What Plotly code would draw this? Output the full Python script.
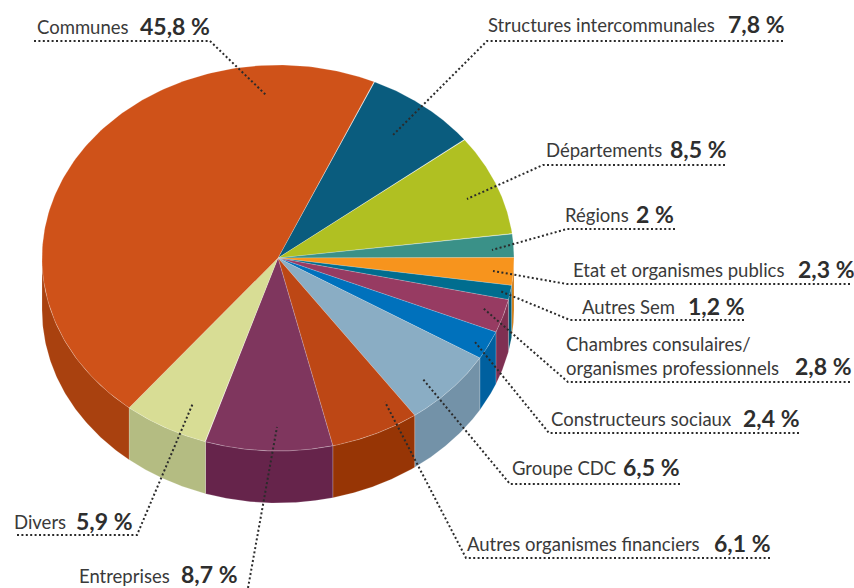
import numpy as np
import plotly.graph_objects as go

# ---- data ----
categories = ["Structures intercommunales", "Départements", "Régions", "Etat et organismes publics",
              "Autres Sem", "Chambres consulaires/<br>organismes professionnels", "Constructeurs sociaux",
              "Groupe CDC", "Autres organismes financiers", "Entreprises", "Divers", "Communes"]
values = [7.8, 8.5, 2.0, 2.3, 1.2, 2.8, 2.4, 6.5, 6.1, 8.7, 5.9, 45.8]
value_labels = ["7,8 %", "8,5 %", "2 %", "2,3 %", "1,2 %", "2,8 %", "2,4 %", "6,5 %", "6,1 %", "8,7 %", "5,9 %", "45,8 %"]

# ---- styles ----
top_colors = ["#0A5C7E", "#B0C022", "#3A9188", "#F7941D", "#006D8F", "#973B62",
              "#0071BC", "#8AADC4", "#BD4715", "#7F365E", "#D8DD95", "#CF5219"]
side_colors = ["#084A66", "#8E9B1B", "#2E746D", "#D07C18", "#005A76", "#7F3052",
               "#00609F", "#7392A8", "#973505", "#66244B", "#B4BC82", "#A9410F"]

# ---- pie projection ----
CX, CY, RX, RY, DEPTH = 278, 258, 236, 193, 52
START = 24.0


def ell(deg, drop=0.0):
    a = np.radians(deg)
    return CX + RX * np.sin(a), CY - RY * np.cos(a) + drop


fig = go.Figure()
SEAM = dict(color="rgba(255,255,255,0.25)", width=0.7)


def poly(xs, ys, color, line=None):
    fig.add_trace(go.Scatter(x=xs, y=ys, mode="lines", fill="toself", fillcolor=color,
                             line=line or dict(color=color, width=0.3), hoverinfo="skip", showlegend=False))


edges = START + np.cumsum([0] + values) * 3.6

# side walls: only the front half of the rim (90 to 270 degrees) is visible
for i, col in enumerate(side_colors):
    for shift in (0, 360):
        a0 = max(edges[i] - shift, 90)
        a1 = min(edges[i + 1] - shift, 270)
        if a1 <= a0:
            continue
        t = np.linspace(a0, a1, 80)
        x0, y0 = ell(t)
        x1, y1 = ell(t[::-1], DEPTH)
        poly(np.r_[x0, x1, x0[0]], np.r_[y0, y1, y0[0]], col, SEAM)

# top faces
for i, col in enumerate(top_colors):
    t = np.linspace(edges[i], edges[i + 1], 160)
    x, y = ell(t)
    poly(np.r_[CX, x, CX], np.r_[CY, y, CY], col, SEAM)

# ---- callout layout: name x, name y, value x, value y, then dotted leader vertices ----
callouts = [
    (488, 25, 728, 24, [(783, 41), (487, 41), (393, 135)]),
    (546, 150, 670, 149, [(725, 165), (543, 165), (467, 199)]),
    (565, 215, 636, 214, [(675, 229), (567, 229), (492, 250)]),
    (573, 270, 798, 269, [(850, 284), (567, 284), (493, 271)]),
    (582, 307, 688, 306, [(744, 320), (570, 320), (500, 291)]),
    (566, 356, 795, 366, [(850, 382), (568, 382), (483, 308)]),
    (551, 419, 743, 418, [(799, 433), (549, 433), (475, 342)]),
    (512, 468, 623, 467, [(680, 484), (510, 484), (422, 378)]),
    (467, 544, 714, 543, [(770, 558), (466, 558), (385, 402)]),
    (79, 576, 181, 574, [(248, 588), (277, 427)]),
    (14, 522, 76, 521, [(17, 535), (137, 535), (193, 403)]),
    (37, 27, 140, 26, [(34, 41), (210, 41), (266, 95)]),
]

annotations = []
for name, val, (nx, ny, vx, vy, pts) in zip(categories, value_labels, callouts):
    fig.add_trace(go.Scatter(x=[p[0] for p in pts], y=[p[1] for p in pts], mode="lines",
                             line=dict(color="#2b2b2b", width=2, dash="2px,2.4px"),
                             hoverinfo="skip", showlegend=False))
    annotations.append(dict(x=nx, y=ny, text=name, xref="x", yref="y", xanchor="left", yanchor="middle",
                            showarrow=False, align="left", borderpad=0, borderwidth=0,
                            font=dict(family="Lato", size=18.5, color="#3a3a3a")))
    annotations.append(dict(x=vx, y=vy, text="<b>%s</b>" % val, xref="x", yref="y", xanchor="left", yanchor="middle",
                            showarrow=False, borderpad=0, borderwidth=0,
                            font=dict(family="Lato", size=23, color="#2e2e2e")))

fig.update_layout(
    width=854, height=588, margin=dict(l=0, r=0, t=0, b=0),
    paper_bgcolor="white", plot_bgcolor="white", showlegend=False,
    xaxis=dict(range=[0, 854], visible=False, fixedrange=True),
    yaxis=dict(range=[588, 0], visible=False, fixedrange=True),
    annotations=annotations,
)
fig.write_html("out.html", config={"displayModeBar": False},
               post_script="document.body.style.margin='0';document.body.style.overflow='hidden';")
